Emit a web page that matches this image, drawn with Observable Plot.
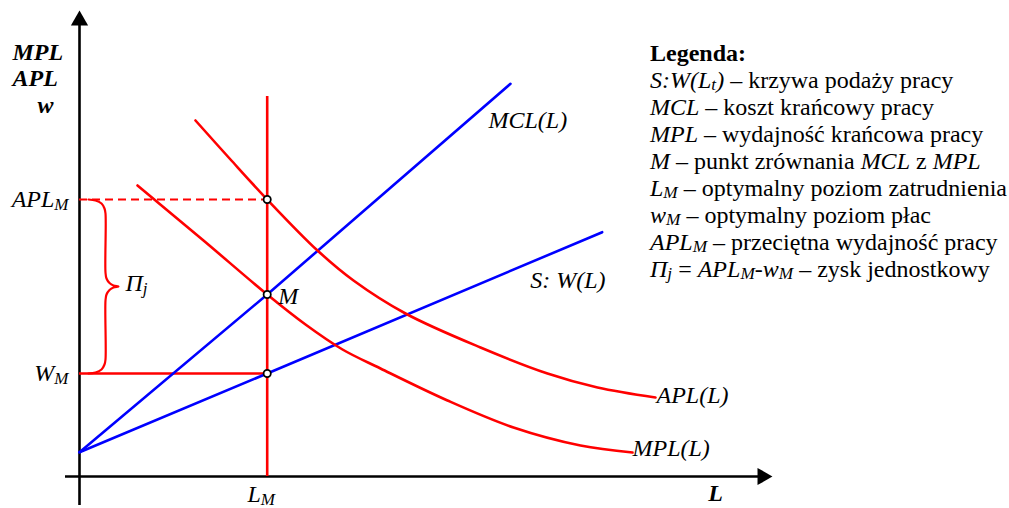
<!DOCTYPE html>
<html><head><meta charset="utf-8">
<script src="https://cdn.jsdelivr.net/npm/d3@7"></script>
<script src="https://cdn.jsdelivr.net/npm/@observablehq/plot@0.6"></script>
<style>
body{margin:0;background:#fff}
#wrap{position:relative;width:1009px;height:508px}
#legend{position:absolute;left:650px;top:40px;font-family:'Liberation Serif','Times New Roman',serif;font-size:24px;line-height:27px;white-space:nowrap;color:#000}
#legend sub{font-size:72%;line-height:0;vertical-align:-0.14em}
</style></head><body><div id="wrap"><div id="legend"></div></div>
<script>
// Key levels (L on the horizontal axis, value on the vertical axis)
const LM = 187.7;      // optimal employment
const aplM = 277;      // APL at LM
const wM = 103;        // wage at LM
const mY = 182;        // point M (MCL = MPL)

// APL(L) curve
const aplL = [116, 151, 187.7, 238, 274, 326, 401, 468, 518, 576];
const aplV = [356, 317, 277, 226, 196, 163, 129, 103, 89, 79];
// MPL(L) curve
const mplL = [58, 124, 187.7, 226, 263, 301, 368, 434, 501, 553];
const mplV = [291, 236, 182, 152, 127, 108, 76, 49, 31, 24];
// MCL(L) line
const mclL = [0, 187.7, 431];
const mclV = [24.3, 182, 392.7];
// S: W(L) line
const supL = [0, 187.7, 522.7];
const supV = [24.3, 103, 244.3];

// Brace between W_M and APL_M
const braceX = [9, 16, 22, 25, 26, 26, 27, 30, 34, 39, 34, 30, 27, 26, 26, 25, 22, 16, 9];
const braceY = [277, 276, 273, 268, 263, 204, 198, 193.5, 191, 190, 189, 186.5, 182, 176, 117, 112, 107, 104, 103];

const yTickLabels = ["W_{M}", "APL_{M}"];
const xTickLabels = ["L_{M}"];
const yAxisTitle = ["MPL", "APL", "w"];
const xAxisTitle = "L";
const curveLabels = ["APL(L)", "MPL(L)", "MCL(L)", "S: W(L)"];

const legendTitle = "Legenda:";
const legendTerms = ["S:W(L<sub>t</sub>)", "MCL", "MPL", "M", "L<sub>M</sub>", "w<sub>M</sub>", "APL<sub>M</sub>", "Π<sub>j</sub>"];
const legendDescs = [
  " – krzywa podaży pracy",
  " – koszt krańcowy pracy",
  " – wydajność krańcowa pracy",
  " – punkt zrównania <i>MCL</i> z <i>MPL</i>",
  " – optymalny poziom zatrudnienia",
  " – optymalny poziom płac",
  " – przeciętna wydajność pracy",
  " = <i>APL<sub>M</sub>-w<sub>M</sub></i> – zysk jednostkowy"
];

const RED = "#ff0000", BLUE = "#0000ff";
const pts = (xs, ys) => xs.map((l, i) => ({l, v: ys[i]}));
const last = (xs, ys) => [{l: xs[xs.length - 1], v: ys[ys.length - 1]}];

const plot = Plot.plot({
  width: 1009, height: 508,
  marginLeft: 79, marginRight: 0, marginTop: 0, marginBottom: 32,
  x: {domain: [0, 930]},
  y: {domain: [0, 476]},
  style: {fontFamily: "'Liberation Serif','Times New Roman',serif", fontSize: "24px", background: "#fff", color: "#000"},
  marks: [
    Plot.axisY([wM, aplM], {tickFormat: (d, i) => yTickLabels[i], tickSize: 0, tickPadding: 11, fontStyle: "italic", fontSize: 24, dy: 0, label: null}),
    Plot.axisX([LM], {tickFormat: (d, i) => xTickLabels[i], tickSize: 0, tickPadding: 8, fontStyle: "italic", fontSize: 24, dx: -6, label: null}),
    // axes lines + arrowheads
    Plot.ruleX([0], {y1: -29, y2: 456, stroke: "black", strokeWidth: 2.6}),
    Plot.ruleY([0], {x1: -14, x2: 683, stroke: "black", strokeWidth: 2.6}),
    Plot.dot([{l: 0, v: 456}], {x: "l", y: "v", symbol: "triangle", r: 6.4, fill: "black", stroke: null}),
    Plot.dot([{l: 683, v: 0}], {x: "l", y: "v", symbol: "triangle", r: 6.4, fill: "black", stroke: null, rotate: 90}),
    // guides
    Plot.ruleX([LM], {y1: 0, y2: 380, stroke: RED, strokeWidth: 2.6}),
    Plot.ruleY([aplM], {x1: 0, x2: LM, stroke: RED, strokeWidth: 2.2, strokeDasharray: "8,5"}),
    Plot.ruleY([wM], {x1: 0, x2: LM, stroke: RED, strokeWidth: 2.6}),
    Plot.line(pts(braceX, braceY), {x: "l", y: "v", stroke: RED, strokeWidth: 2.2, curve: "catmull-rom"}),
    // curves
    Plot.line(pts(mclL, mclV), {x: "l", y: "v", stroke: BLUE, strokeWidth: 2.6}),
    Plot.line(pts(supL, supV), {x: "l", y: "v", stroke: BLUE, strokeWidth: 2.6}),
    Plot.line(pts(aplL, aplV), {x: "l", y: "v", stroke: RED, strokeWidth: 2.6, curve: "catmull-rom"}),
    Plot.line(pts(mplL, mplV), {x: "l", y: "v", stroke: RED, strokeWidth: 2.6, curve: "catmull-rom"}),
    // intersection points
    Plot.dot([{l: LM, v: aplM}, {l: LM, v: mY}, {l: LM, v: wM}], {x: "l", y: "v", r: 3.6, fill: "white", stroke: "black", strokeWidth: 1.8}),
    // curve labels
    Plot.text(last(aplL, aplV), {x: "l", y: "v", text: () => curveLabels[0], textAnchor: "start", lineAnchor: "bottom", dx: 1, dy: 5, fontStyle: "italic"}),
    Plot.text(last(mplL, mplV), {x: "l", y: "v", text: () => curveLabels[1], textAnchor: "start", lineAnchor: "bottom", dx: 0, dy: 3, fontStyle: "italic"}),
    Plot.text(last(mclL, mclV), {x: "l", y: "v", text: () => curveLabels[2], textAnchor: "start", lineAnchor: "bottom", dx: -22, dy: 44, fontStyle: "italic"}),
    Plot.text(last(supL, supV), {x: "l", y: "v", text: () => curveLabels[3], textAnchor: "start", lineAnchor: "bottom", dx: -72, dy: 56, fontStyle: "italic"}),
    Plot.text([{l: LM, v: mY}], {x: "l", y: "v", text: () => "M", textAnchor: "start", lineAnchor: "bottom", dx: 11, dy: 9, fontStyle: "italic"}),
    Plot.text([{l: 39, v: 190}], {x: "l", y: "v", text: () => "Π_{j}", textAnchor: "start", lineAnchor: "bottom", dx: 7, dy: 4, fontStyle: "italic"}),
    // axis titles
    Plot.text([{l: -67, v: 417, t: yAxisTitle[0]}, {l: -67, v: 391, t: yAxisTitle[1]}, {l: -42, v: 364, t: yAxisTitle[2]}],
      {x: "l", y: "v", text: "t", textAnchor: "start", lineAnchor: "bottom", fontStyle: "italic", fontWeight: "bold"}),
    Plot.text([{l: 636, v: -24}], {x: "l", y: "v", text: () => xAxisTitle, textAnchor: "middle", lineAnchor: "bottom", fontStyle: "italic", fontWeight: "bold"})
  ]
});

// turn "_{x}" markup into subscripts
const NS = "http://www.w3.org/2000/svg";
plot.querySelectorAll("text").forEach(t => {
  const s = t.textContent;
  if (!s.includes("_{")) return;
  const parts = s.split(/(_\{[^}]*\})/).filter(p => p);
  t.textContent = "";
  let shifted = false;
  for (const p of parts) {
    const ts = document.createElementNS(NS, "tspan");
    if (p.startsWith("_{")) {
      ts.textContent = p.slice(2, -1);
      ts.setAttribute("font-size", "17");
      ts.setAttribute("dy", "3");
      shifted = true;
    } else {
      ts.textContent = p;
      if (shifted) { ts.setAttribute("dy", "-3"); shifted = false; }
    }
    t.appendChild(ts);
  }
});

document.getElementById("wrap").prepend(plot);

const lg = document.getElementById("legend");
lg.innerHTML = `<div><b>${legendTitle}</b></div>` +
  legendTerms.map((t, i) => `<div><i>${t}</i>${legendDescs[i]}</div>`).join("");
</script>
</body></html>
